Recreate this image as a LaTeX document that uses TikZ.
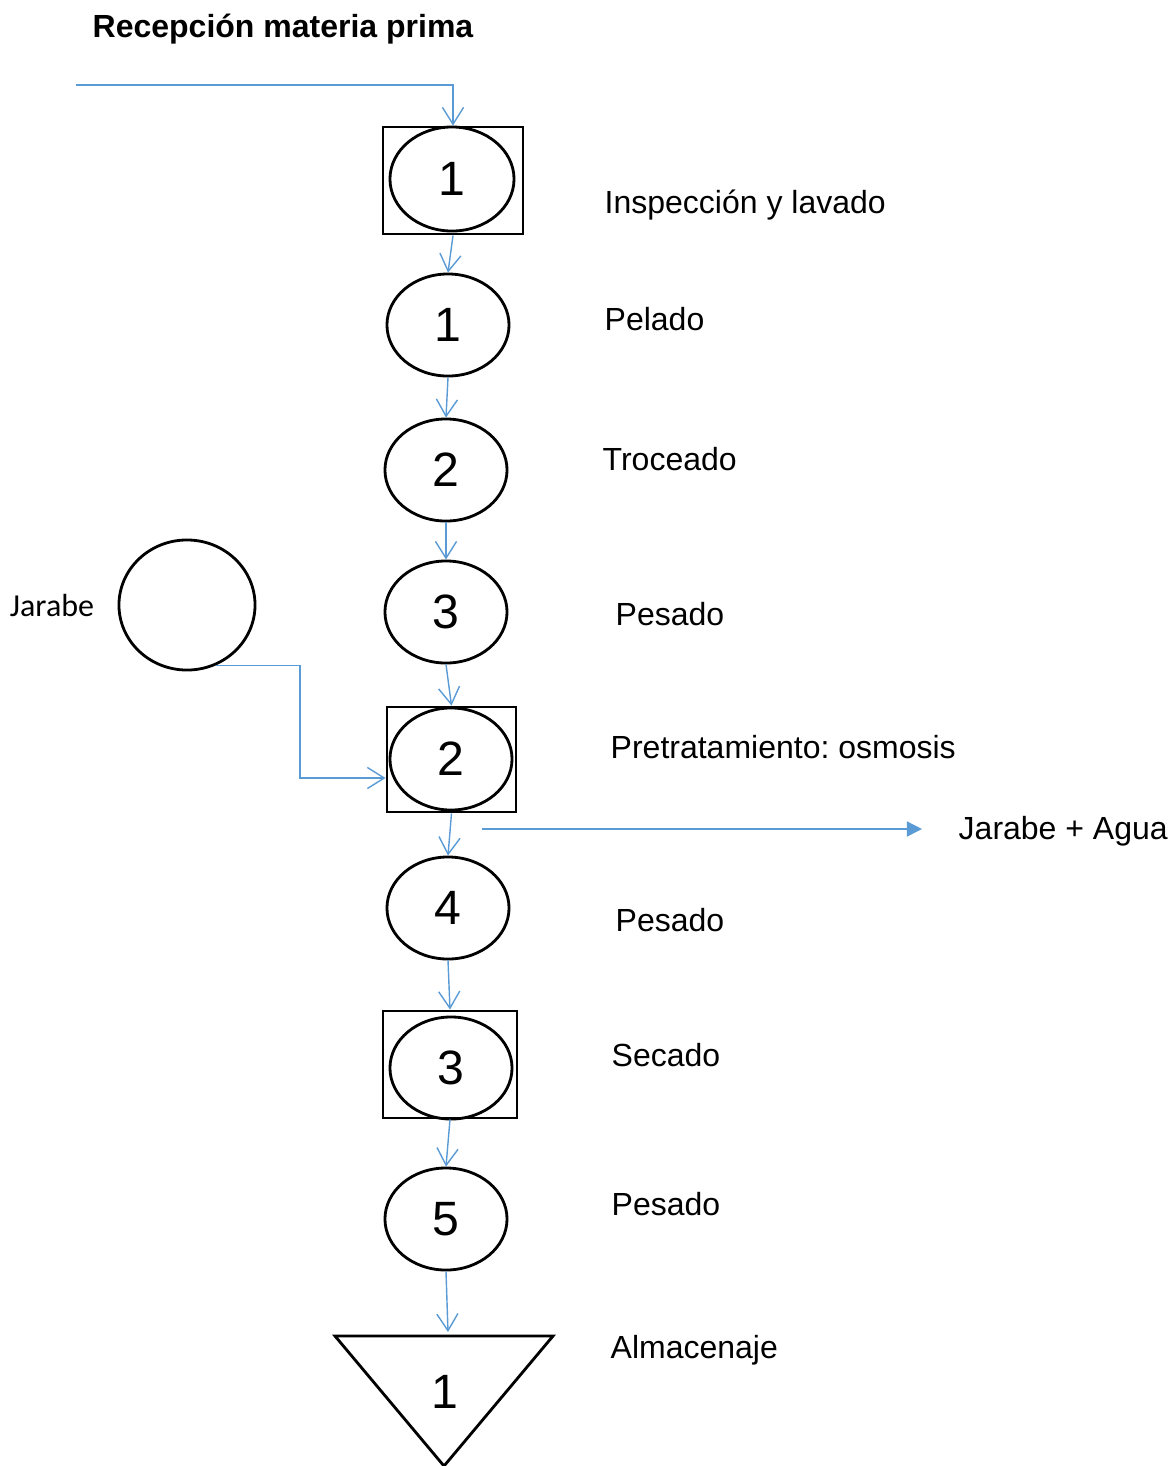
\documentclass[tikz,border=0pt]{standalone}
\usepackage{fontspec}
\setmainfont{Liberation Sans}
\newfontfamily\calibri{Carlito}
\usepackage{tikz}
\usetikzlibrary{arrows.meta,shapes.geometric,positioning}
\definecolor{flujoazul}{RGB}{91,155,213}
\frenchspacing

\begin{document}
\begin{tikzpicture}[x=0.01cm,y=-0.01cm,
  oper/.style={draw,ellipse,line width=0.8pt,minimum width=1.22cm,minimum height=1.02cm,inner sep=0pt,font=\fontsize{13.7}{15}\selectfont},
  caja/.style={draw,rectangle,line width=0.8pt,inner sep=0pt},
  flujo/.style={flujoazul,line width=0.4pt,-{Straight Barb[length=4.8pt,width=6pt]}},
  salida/.style={flujoazul,line width=0.4pt,-{Triangle[length=4.3pt,width=4.3pt]}},
  etiq/.style={anchor=west,inner sep=0pt,font=\fontsize{9.1}{11}\selectfont}]
  \useasboundingbox (0,0) rectangle (1170,1466);

  % title
  \node[font=\fontsize{9.1}{11}\selectfont\bfseries] (tit) at (283,29) {Recepción materia prima};

  % process column
  \node[caja,minimum width=1.40cm,minimum height=1.07cm] (c1) at (453,180.5) {};
  \node[oper,minimum width=1.24cm,minimum height=1.04cm] (i1) at (452,179) {1};
  \node[oper] (o1) at (448,325) {1};
  \node[oper] (o2) at (446,470) {2};
  \node[oper] (o3) at (446,612) {3};
  \node[caja,minimum width=1.29cm,minimum height=1.05cm] (c2) at (451.5,759.5) {};
  \node[oper] (i2) at (451,759) {2};
  \node[oper] (o4) at (448,908) {4};
  \node[caja,minimum width=1.34cm,minimum height=1.07cm] (c3) at (450,1064.5) {};
  \node[oper] (i3) at (451,1068) {3};
  \node[oper] (o5) at (446,1219) {5};

  % storage triangle
  \draw[line width=0.8pt] (335,1336) -- (553,1336) -- (444,1466) -- cycle;
  \node[font=\fontsize{13.7}{15}\selectfont] (a1) at (445,1392) {1};
  \coordinate (alm) at (448,1332);

  % syrup
  \node[draw,ellipse,line width=0.8pt,minimum width=1.36cm,minimum height=1.30cm] (jar) at (187,605) {};
  \node[font=\calibri\fontsize{9.1}{11}\selectfont] (ljar) at (52,605) {Jarabe};

  % labels
  \node[etiq] (l1) at (604,205) {Inspección y lavado};
  \node[etiq] (l2) at (604,319) {Pelado};
  \node[etiq] (l3) at (602,459) {Troceado};
  \node[etiq] (l4) at (615,614) {Pesado};
  \node[etiq] (l5) at (610,747) {Pretratamiento: osmosis};
  \node[etiq] (jag) at (958,831) {Jarabe + Agua};
  \node[etiq] (l6) at (615,920) {Pesado};
  \node[etiq] (l7) at (611,1055) {Secado};
  \node[etiq] (l8) at (611,1204) {Pesado};
  \node[etiq] (l9) at (610,1350) {Almacenaje};

  % flow
  \coordinate (ent) at (76,85);
  \draw[flujo] (ent) -| (c1.north);
  \draw[flujo] (c1.south) -- (o1.north);
  \draw[flujo] (o1.south) -- (o2.north);
  \draw[flujo] (o2.south) -- (o3.north);
  \draw[flujo] (o3.south) -- (c2.north);
  \draw[flujo] (c2.south) -- (o4.north);
  \draw[flujo] (o4.south) -- (c3.north);
  \draw[flujo] (c3.south) -- (o5.north);
  \draw[flujo] (o5.south) -- (alm);
  \draw[flujo] (jar.-64) -| (300,778) -- (c2.west |- 300,778);
  \coordinate (sal) at (482,829);
  \draw[salida] (sal) -- (jag.west |- sal) [shorten >=0.36cm];
\end{tikzpicture}
\end{document}
